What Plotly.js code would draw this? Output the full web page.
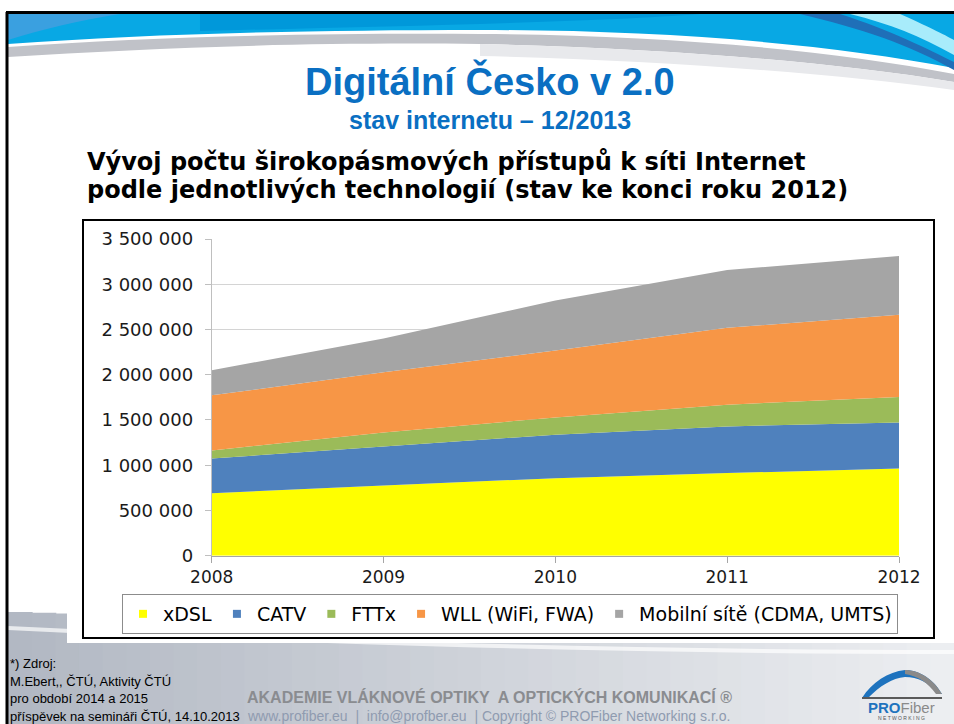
<!DOCTYPE html>
<html><head><meta charset="utf-8">
<script src="https://cdn.plot.ly/plotly-3.0.1.min.js"></script>
<style>html,body{margin:0;padding:0;background:#fff;overflow:hidden}</style>
</head><body><div id="chart" style="width:954px;height:724px"></div>
<script>
// ---- data ----
const years = [2008, 2009, 2010, 2011, 2012];
const seriesNames = ['xDSL', 'CATV', 'FTTx', 'WLL (WiFi, FWA)', 'Mobilní sítě (CDMA, UMTS)'];
const xdsl   = [691000, 775000, 857000, 913000, 964000];
const catv   = [383000, 432000, 480000, 516000, 509000];
const fttx   = [ 89000, 155000, 191000, 240000, 281000];
const wll    = [609000, 665000, 739000, 850000, 909000];
const mobile = [277000, 373000, 554000, 638000, 649000];
const yTickVals = [0, 500000, 1000000, 1500000, 2000000, 2500000, 3000000, 3500000];
const xTickVals = [2008, 2009, 2010, 2011, 2012];
const seriesColors = ['#FFFF00', '#4F81BD', '#9BBB59', '#F79646', '#A5A5A5'];

const W = 954, H = 724;
const px = x => x / W;
const py = y => 1 - y / H;
function path(cmds) {
  return cmds.map(c => {
    const k = c[0]; const v = c.slice(1);
    const out = [];
    for (let i = 0; i < v.length; i += 2) out.push(px(v[i]).toFixed(5) + ',' + py(v[i+1]).toFixed(5));
    return k + ' ' + out.join(' ');
  }).join(' ');
}

const allSeries = [xdsl, catv, fttx, wll, mobile];
const traces = allSeries.map((s, i) => ({
  type: 'scatter', x: years, y: s, stackgroup: 'one', mode: 'none',
  name: seriesNames[i], fillcolor: seriesColors[i], line: {width: 0},
  showlegend: false, hoverinfo: 'x+y+name'
}));
seriesNames.forEach((n, i) => traces.push({
  type: 'scatter', x: [null], y: [null], mode: 'markers', name: n,
  marker: {symbol: 'square', size: 8, color: seriesColors[i]}, showlegend: true
}));

// ---- decorations ----
const shapes = [];
const footTop = 612;
const nStrips = 40;
for (let i = 0; i < nStrips; i++) {
  const t = i / (nStrips - 1);
  const c0 = [178, 184, 195], c1 = [236, 238, 241];
  const c = c0.map((v, k) => Math.round(v + (c1[k] - v) * t));
  const x0 = 8 + (W - 8) * i / nStrips, x1 = 8 + (W - 8) * (i + 1) / nStrips + 1;
  shapes.push({type: 'rect', xref: 'paper', yref: 'paper', x0: px(x0), x1: px(x1),
    y0: py(H), y1: py(footTop + 28 * t), fillcolor: `rgb(${c.join(',')})`, line: {width: 0}, layer: 'below'});
}
shapes.push({type: 'path', xref: 'paper', yref: 'paper', layer: 'below',
  path: path([['M', 8, 628], ['C', 250, 640, 600, 652, 954, 652]]),
  line: {color: 'rgba(255,255,255,0.7)', width: 4}});
shapes.push({type: 'rect', xref: 'paper', yref: 'paper', x0: px(67), x1: px(954), y0: py(643), y1: py(212),
  fillcolor: '#ffffff', line: {width: 0}, layer: 'below'});
shapes.push({type: 'path', xref: 'paper', yref: 'paper', layer: 'below',
  path: path([['M', 8, 14], ['L', 954, 14], ['L', 954, 68], ['C', 820, 42, 650, 30, 480, 30], ['C', 300, 30, 150, 34, 8, 44], ['Z']]),
  fillcolor: '#08a8e4', line: {width: 0}});
shapes.push({type: 'path', xref: 'paper', yref: 'paper', layer: 'below',
  path: path([['M', 8, 14], ['L', 120, 14], ['C', 80, 20, 40, 30, 8, 40], ['Z']]),
  fillcolor: '#3aa0e0', line: {width: 0}});
shapes.push({type: 'path', xref: 'paper', yref: 'paper', layer: 'below',
  path: path([['M', 200, 14], ['L', 700, 14], ['C', 600, 22, 400, 26, 200, 31], ['Z']]),
  fillcolor: '#0098da', line: {width: 0}});
shapes.push({type: 'path', xref: 'paper', yref: 'paper', layer: 'below',
  path: path([['M', 800, 14], ['L', 840, 14], ['C', 890, 30, 930, 50, 954, 62], ['L', 954, 70], ['C', 910, 45, 860, 28, 800, 14], ['Z']]),
  fillcolor: '#1f6fb8', line: {width: 0}});
shapes.push({type: 'path', xref: 'paper', yref: 'paper', layer: 'below',
  path: path([['M', 850, 14], ['L', 900, 14], ['C', 925, 25, 945, 35, 954, 40], ['L', 954, 55], ['C', 920, 36, 890, 24, 850, 14], ['Z']]),
  fillcolor: '#a8ecfb', line: {width: 0}});
shapes.push({type: 'path', xref: 'paper', yref: 'paper', layer: 'below',
  path: path([['M', 8, 47], ['C', 150, 37, 300, 33, 480, 34], ['C', 650, 35, 820, 48, 954, 74], ['L', 954, 82],
              ['C', 820, 60, 650, 48, 480, 44], ['C', 300, 42, 150, 48, 8, 57], ['Z']]),
  fillcolor: '#c0c2c8', line: {width: 0}});
shapes.push({type: 'path', xref: 'paper', yref: 'paper', layer: 'below',
  path: path([['M', 480, 44], ['C', 650, 48, 820, 60, 954, 82], ['L', 954, 90], ['C', 820, 72, 650, 60, 480, 56], ['Z']]),
  fillcolor: '#e8e9ec', line: {width: 0}});
shapes.push({type: 'line', xref: 'paper', yref: 'paper', x0: px(7), x1: px(7), y0: py(12), y1: py(H),
  line: {color: '#000', width: 3}, layer: 'below'});
shapes.push({type: 'line', xref: 'paper', yref: 'paper', x0: px(6), x1: px(W), y0: py(12.5), y1: py(12.5),
  line: {color: '#000', width: 3}, layer: 'below'});
shapes.push({type: 'rect', xref: 'paper', yref: 'paper', x0: px(83), x1: px(934), y0: py(638), y1: py(220),
  line: {color: '#000', width: 2}, fillcolor: 'rgba(0,0,0,0)', layer: 'below'});
// logo arch
shapes.push({type: 'path', xref: 'paper', yref: 'paper',
  path: path([['M', 862, 698], ['C', 872, 682, 888, 672, 905, 670], ['C', 920, 670, 934, 680, 942, 694],
              ['L', 938, 694], ['C', 928, 682, 918, 677, 905, 677], ['C', 892, 678, 880, 686, 868, 698], ['Z']]),
  fillcolor: '#1e73be', line: {width: 0}});
shapes.push({type: 'path', xref: 'paper', yref: 'paper',
  path: path([['M', 905, 670], ['C', 920, 670, 934, 680, 942, 694], ['L', 936, 694], ['C', 928, 683, 918, 676, 905, 674], ['Z']]),
  fillcolor: '#8a8a8a', line: {width: 0}});
shapes.push({type: 'line', xref: 'paper', yref: 'paper', x0: px(862), x1: px(942), y0: py(698), y1: py(698),
  line: {color: '#5a5a5a', width: 2}});

const ann = [];
function text(t, x, y, opts) {
  ann.push(Object.assign({text: t, xref: 'paper', yref: 'paper', x: px(x), y: py(y), showarrow: false,
    xanchor: 'left', yanchor: 'middle'}, opts));
}
const narrow = '"Liberation Sans Narrow", "Arial Narrow", "Liberation Sans", Arial, sans-serif';
text('<b>Digitální Česko v 2.0</b>', 490, 81, {xanchor: 'center', font: {family: narrow, size: 38, color: '#0a6fc2'}});
text('<b>stav internetu – 12/2013</b>', 490, 120, {xanchor: 'center', font: {family: narrow, size: 25, color: '#0a6fc2'}});
text('<b>Vývoj počtu širokopásmových přístupů k síti Internet</b>', 85, 162, {font: {family: 'DejaVu Sans, sans-serif', size: 24, color: '#000'}});
text('<b>podle jednotlivých technologií (stav ke konci roku 2012)</b>', 85, 190, {font: {family: 'DejaVu Sans, sans-serif', size: 24, color: '#000'}});
const fl = {family: narrow, size: 13, color: '#000'};
text('*) Zdroj:', 8, 663, {font: fl});
text('M.Ebert,, ČTÚ, Aktivity ČTÚ', 8, 681, {font: fl});
text('pro období 2014 a 2015', 8, 698, {font: fl});
text('příspěvek na semináři ČTÚ, 14.10.2013', 8, 716, {font: fl});
text('<b>AKADEMIE VLÁKNOVÉ OPTIKY  A OPTICKÝCH KOMUNIKACÍ ®</b>', 490, 697, {xanchor: 'center', font: {family: 'Liberation Sans, Arial', size: 16, color: '#8a8c90'}});
text('www.profiber.eu  |  info@profber.eu  | Copyright © PROFiber Networking s.r.o.', 488, 716, {xanchor: 'center', font: {family: 'Liberation Sans, Arial', size: 14, color: '#8f9bb0'}});
text('<b><span style="color:#1e73be">PRO</span></b><span style="color:#8a8a8a">Fiber</span>', 901, 707, {xanchor: 'center', font: {family: 'Liberation Sans, Arial', size: 15}});
text('N E T W O R K I N G', 901, 718, {xanchor: 'center', font: {family: 'Liberation Sans, Arial', size: 5, color: '#555'}});

const layout = {
  width: W, height: H, margin: {l: 0, r: 0, t: 0, b: 0},
  paper_bgcolor: '#ffffff', plot_bgcolor: 'rgba(0,0,0,0)',
  separators: ', ',
  showlegend: true,
  xaxis: {domain: [px(211.7), px(899)], range: [2008, 2012], tickvals: xTickVals, ticktext: xTickVals.map(String),
    showgrid: false, zeroline: false, showline: true, linecolor: '#a6a6a6', linewidth: 1,
    ticks: 'outside', ticklen: 6, tickcolor: '#a6a6a6',
    tickfont: {family: 'DejaVu Sans, sans-serif', size: 17, color: '#1a1a1a'}, fixedrange: true},
  yaxis: {domain: [py(555.7), py(239)], range: [0, 3500000], tickvals: yTickVals, tickformat: ',d',
    showgrid: true, gridcolor: '#d4d4d4', gridwidth: 1, zeroline: false, showline: true, linecolor: '#bfbfbf',
    ticks: 'outside', ticklen: 6, tickcolor: '#bfbfbf', ticklabelstandoff: 8,
    tickfont: {family: 'DejaVu Sans, sans-serif', size: 18, color: '#1a1a1a'}, fixedrange: true},
  legend: {orientation: 'h', x: px(122), y: py(594), xanchor: 'left', yanchor: 'top', traceorder: 'normal',
    bordercolor: '#8c8c8c', borderwidth: 1, bgcolor: '#ffffff', itemwidth: 30,
    font: {family: 'DejaVu Sans, sans-serif', size: 19, color: '#000'}},
  shapes: shapes, annotations: ann
};
Plotly.newPlot('chart', traces, layout, {displayModeBar: false, staticPlot: true});
</script></body></html>
